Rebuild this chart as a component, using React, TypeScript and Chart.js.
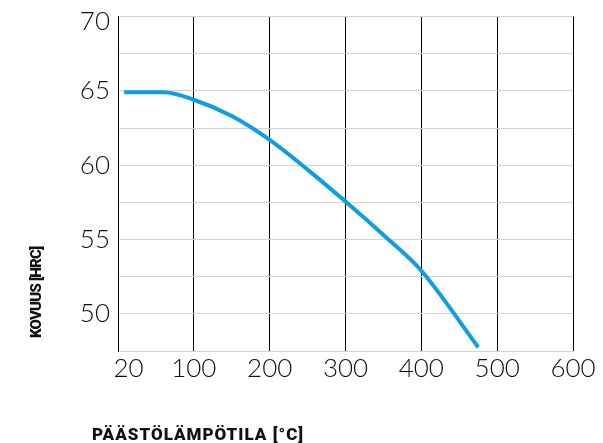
import React, { useEffect, useRef } from "react";
import { Chart, registerables } from "chart.js";

Chart.register(...registerables);

// Temperature positions along the axis (axis origin carries the "20" label)
const temperatures = [8, 60, 100, 150, 200, 250, 300, 350, 400, 475];
const hardness = [64.9, 64.9, 64.4, 63.3, 61.7, 59.7, 57.55, 55.3, 52.9, 47.75];

const xTickValues = [0, 100, 200, 300, 400, 500, 600];
const xTickLabels = ["20", "100", "200", "300", "400", "500", "600"];
const yTickValues = [47.5, 50, 52.5, 55, 57.5, 60, 62.5, 65, 67.5, 70];
const yTickLabels = ["", "50", "", "55", "", "60", "", "65", "", "70"];

const xTitle = "PÄÄSTÖLÄMPÖTILA [°C]";
const yTitle = "KOVUUS [HRC]";

const TICK_FONT = "Lato";
const TITLE_FONT = "Roboto";

const titlePlugin = {
  id: "axisTitles",
  afterDraw(chart: any) {
    const { ctx, chartArea } = chart;
    ctx.save();
    ctx.fillStyle = "#111";
    ctx.textAlign = "left";
    ctx.textBaseline = "alphabetic";
    ctx.font = `900 17px ${TITLE_FONT}`;
    try { (ctx as any).letterSpacing = "1px"; } catch (e) {}
    ctx.fillText(xTitle, chartArea.left - 26, chart.height - 3);
    ctx.font = `900 15px ${TITLE_FONT}`;
    try { (ctx as any).letterSpacing = "-0.8px"; } catch (e) {}
    ctx.translate(29, chartArea.bottom - 13);
    ctx.rotate(-Math.PI / 2);
    ctx.textBaseline = "middle";
    ctx.fillText(yTitle, 0, 0);
    ctx.restore();
  },
};

export default function App() {
  const ref = useRef<HTMLCanvasElement>(null);
  useEffect(() => {
    document.body.style.overflow = "hidden";
    const tickFont = (lh: number) => ({ family: TICK_FONT, size: 26, weight: "300", lineHeight: lh });
    const chart = new Chart(ref.current!, {
      type: "line",
      data: {
        datasets: [
          {
            data: temperatures.map((t, i) => ({ x: t, y: hardness[i] })),
            borderColor: "#0f9fe0",
            borderWidth: 4,
            pointRadius: 0,
            fill: false,
            cubicInterpolationMode: "monotone",
          },
        ],
      },
      options: {
        animation: false,
        responsive: true,
        maintainAspectRatio: false,
        layout: { padding: { left: 0, top: 8.5, right: 22, bottom: 0 } },
        plugins: { legend: { display: false }, tooltip: { enabled: false } },
        scales: {
          x: {
            type: "linear",
            min: 0,
            max: 600,
            afterBuildTicks: (s: any) => {
              s.ticks = xTickValues.map((v) => ({ value: v }));
            },
            afterFit: (s: any) => {
              s.height = 92;
              s.paddingLeft = 0;
              s.paddingRight = 0;
            },
            ticks: {
              autoSkip: false,
              maxRotation: 0,
              padding: 2,
              color: "#111",
              font: tickFont(1.2),
              callback: (_v: any, i: number) => (i === 0 ? "   " + xTickLabels[0] : xTickLabels[i]),
            },
            grid: { color: "#000", lineWidth: 1, drawTicks: false },
            border: { color: "#d4d4d4", width: 1 },
          },
          y: {
            type: "linear",
            min: 47.5,
            max: 70,
            afterBuildTicks: (s: any) => {
              s.ticks = yTickValues.map((v) => ({ value: v }));
            },
            afterFit: (s: any) => {
              s.width = 110;
              s.paddingTop = 0;
              s.paddingBottom = 0;
            },
            ticks: {
              autoSkip: false,
              padding: 8,
              color: "#111",
              font: (c: any) => (c.tick && c.tick.value === 70 ? tickFont(0.4) : tickFont(1.2)),
              callback: (v: any, i: number) => (v === 70 ? ["", yTickLabels[i]] : yTickLabels[i]),
            },
            grid: { color: "#d4d4d4", lineWidth: 1, drawTicks: false },
            border: { color: "#000", width: 1 },
          },
        },
      },
      plugins: [titlePlugin],
    } as any);
    return () => chart.destroy();
  }, []);
  return (
    <div style={{ position: "relative", width: 587, height: 435 }}>
      <canvas ref={ref} />
    </div>
  );
}
